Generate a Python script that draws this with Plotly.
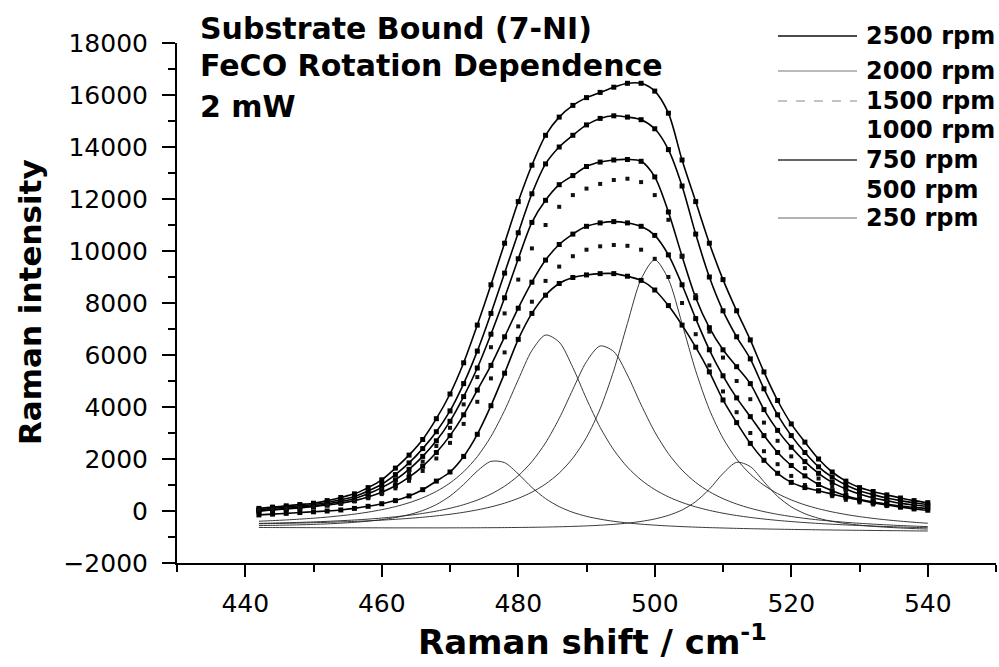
import plotly.graph_objects as go

shift = list(range(442, 541, 2))

# Fitted spectra for each rotation speed (Raman intensity)
rpm2500 = [100, 150, 200, 250, 300, 400, 520, 660, 900, 1200,
           1650, 2150, 2750, 3550, 4500, 5700, 7150, 8700, 10300, 11900,
           13300, 14450, 15150, 15600, 15900, 16100, 16300, 16450, 16450, 16150,
           15300, 13500, 11900, 10300, 8900, 7700, 6580, 5350, 4250, 3350,
           2650, 2000, 1500, 1150, 900, 750, 620, 500, 400, 320]
rpm2000 = [50, 100, 150, 200, 250, 330, 430, 560, 770, 1030,
           1400, 1850, 2400, 3050, 3850, 4900, 6150, 7600, 9150, 10700,
           12200, 13350, 14000, 14450, 14850, 15100, 15200, 15150, 15050, 14700,
           13900, 12500, 10650, 9000, 7700, 6700, 5850, 4700, 3700, 2900,
           2250, 1700, 1300, 1000, 780, 630, 500, 400, 320, 250]
rpm1500 = [0, 50, 100, 150, 200, 270, 360, 480, 660, 900,
           1200, 1600, 2100, 2700, 3450, 4400, 5500, 6800, 8200, 9700,
           11100, 11950, 12550, 12900, 13250, 13420, 13500, 13520, 13450, 12850,
           11500, 9800, 8200, 7050, 6200, 5550, 4900, 3900, 3100, 2450,
           1900, 1450, 1100, 850, 650, 500, 400, 300, 230, 180]
rpm1000 = [50, 80, 120, 160, 200, 260, 340, 450, 600, 800,
           1080, 1450, 1900, 2500, 3200, 4100, 5150, 6300, 7600, 8900,
           10100, 11000, 11700, 12150, 12400, 12580, 12730, 12780, 12650, 12150,
           11200, 9800, 8300, 6900, 5900, 5000, 4300, 3400, 2700, 2100,
           1650, 1250, 950, 730, 560, 430, 340, 260, 200, 150]
rpm750 = [0, 40, 80, 120, 170, 230, 300, 400, 540, 720,
          970, 1300, 1720, 2250, 2900, 3700, 4650, 5600, 6700, 7800,
          8800, 9650, 10250, 10650, 10950, 11080, 11130, 11080, 10950, 10600,
          9850, 8700, 7400, 6200, 5200, 4350, 3630, 2900, 2250, 1750,
          1350, 1020, 780, 590, 450, 340, 260, 190, 140, 100]
rpm500 = [50, 60, 90, 120, 160, 210, 280, 370, 490, 650,
          870, 1160, 1540, 2020, 2620, 3350, 4200, 5100, 6100, 7100,
          8050, 8850, 9400, 9800, 10050, 10180, 10230, 10200, 10050, 9700,
          9000, 8000, 6800, 5600, 4600, 3800, 3000, 2300, 1800, 1350,
          1000, 760, 570, 430, 330, 250, 190, 140, 100, 80]
rpm250 = [-150, -120, -90, -60, -30, 0, 40, 100, 180, 280,
          400, 580, 820, 1150, 1500, 2100, 2950, 4050, 5300, 6600,
          7600, 8300, 8750, 8980, 9080, 9130, 9130, 9030, 8870, 8500,
          7900, 7150, 6300, 5350, 4270, 3400, 2600, 1950, 1450, 1100,
          900, 780, 650, 530, 420, 320, 230, 150, 80, 30]

# Fitted component bands (~477, ~484, ~492, ~500, ~512 cm^-1)
band477 = [-561, -553, -543, -531, -515, -495, -469, -435, -391, -332,
           -251, -140, 19, 246, 573, 1020, 1537, 1909, 1859, 1426,
           906, 477, 167, -52, -205, -315, -397, -458, -506, -544,
           -575, -600, -621, -639, -654, -668, -680, -690, -700, -708,
           -716, -724, -731, -737, -743, -749, -754, -759, -765, -769]
band484 = [-392, -370, -344, -313, -277, -234, -182, -120, -43, 51,
           168, 317, 506, 753, 1077, 1510, 2090, 2866, 3869, 5051,
           6171, 6768, 6495, 5518, 4312, 3217, 2346, 1686, 1194, 825,
           544, 328, 159, 24, -85, -174, -247, -309, -362, -406,
           -445, -479, -509, -535, -558, -579, -598, -615, -631, -645]
band492 = [-476, -465, -452, -437, -419, -398, -374, -346, -312, -271,
           -223, -164, -93, -5, 105, 243, 420, 651, 953, 1356,
           1898, 2622, 3560, 4675, 5746, 6347, 6131, 5228, 4087, 3042,
           2206, 1573, 1098, 744, 475, 268, 106, -24, -128, -213,
           -284, -343, -392, -436, -473, -505, -534, -559, -581, -601]
band500 = [-492, -484, -474, -463, -451, -436, -419, -400, -377, -351,
           -320, -283, -240, -188, -126, -50, 43, 158, 302, 486,
           724, 1038, 1459, 2034, 2829, 3929, 5410, 7217, 8920, 9663,
           8914, 7205, 5392, 3905, 2799, 1998, 1417, 990, 670, 426,
           236, 86, -35, -134, -216, -284, -342, -391, -434, -471]
band512 = [-634, -636, -638, -640, -642, -643, -645, -646, -647, -648,
           -649, -649, -649, -649, -648, -647, -645, -642, -638, -633,
           -627, -618, -607, -592, -573, -547, -513, -466, -401, -307,
           -169, 39, 360, 839, 1444, 1873, 1709, 1125, 561, 160,
           -104, -280, -399, -483, -544, -590, -625, -653, -676, -695]

series_names = ["2500 rpm", "2000 rpm", "1500 rpm", "1000 rpm", "750 rpm", "500 rpm", "250 rpm"]
series_values = [rpm2500, rpm2000, rpm1500, rpm1000, rpm750, rpm500, rpm250]
series_has_line = [True, True, True, False, True, False, True]
bands = [band477, band484, band492, band500, band512]

FONT = "DejaVu Sans"

fig = go.Figure()

for b in bands:
    fig.add_trace(go.Scatter(x=shift, y=b, mode="lines",
                             line=dict(color="#222222", width=0.9, shape="spline", smoothing=0.8),
                             showlegend=False, hoverinfo="skip"))

for name, vals, has_line in zip(series_names, series_values, series_has_line):
    if has_line:
        fig.add_trace(go.Scatter(x=shift, y=vals, mode="lines+markers", name=name,
                                 line=dict(color="black", width=1.6, shape="spline", smoothing=0.8),
                                 marker=dict(symbol="square", size=5, color="black"),
                                 showlegend=False))
    else:
        fig.add_trace(go.Scatter(x=shift, y=vals, mode="markers", name=name,
                                 marker=dict(symbol="square", size=4, color="#111111"),
                                 showlegend=False))

# Manual legend (line samples + bold labels) to match the reference layout
legend_styles = [
    dict(color="#111111", width=1.6, dash="solid"),
    dict(color="#777777", width=1.2, dash="solid"),
    dict(color="#888888", width=1.2, dash="dash"),
    None,
    dict(color="#333333", width=1.6, dash="solid"),
    None,
    dict(color="#666666", width=1.2, dash="solid"),
]
legend_py = [36, 71, 101, 130, 160, 190, 218]
shapes = []
annotations = []
for name, style, py in zip(series_names, legend_styles, legend_py):
    yp = (563 - py) / 520.0
    if style is not None:
        shapes.append(dict(type="line", xref="paper", yref="paper",
                           x0=(778 - 177) / 819.0, x1=(857 - 177) / 819.0, y0=yp, y1=yp,
                           line=style))
    annotations.append(dict(text="<b>%s</b>" % name, xref="paper", yref="paper",
                            x=(864 - 177) / 819.0, y=yp, xanchor="left", yanchor="middle",
                            showarrow=False, font=dict(family=FONT, size=24, color="black")))

for txt, py in [("Substrate Bound (7-NI)", 28), ("FeCO Rotation Dependence", 66), ("2 mW", 106)]:
    annotations.append(dict(text="<b>%s</b>" % txt, xref="paper", yref="paper",
                            x=(198 - 177) / 819.0, y=(563 - py) / 520.0,
                            xanchor="left", yanchor="middle", showarrow=False,
                            font=dict(family=FONT, size=30, color="black")))

annotations.append(dict(text="<b>Raman shift / cm<sup>-1</sup></b>", xref="paper", yref="paper",
                        x=(592 - 177) / 819.0, y=(563 - 640) / 520.0,
                        xanchor="center", yanchor="middle", showarrow=False,
                        font=dict(family=FONT, size=34, color="black")))
annotations.append(dict(text="<b>Raman intensity</b>", xref="paper", yref="paper",
                        x=(30 - 177) / 819.0, y=(563 - 302) / 520.0, textangle=-90,
                        xanchor="center", yanchor="middle", showarrow=False,
                        font=dict(family=FONT, size=31, color="black")))

axis_common = dict(showline=True, linewidth=2, linecolor="black", ticks="outside",
                   tickwidth=2, tickcolor="black", showgrid=False, zeroline=False,
                   tickformat="d",
                   tickfont=dict(family=FONT, size=25, color="black"))

fig.update_layout(
    width=999, height=667,
    margin=dict(l=177, r=3, t=43, b=104),
    paper_bgcolor="white", plot_bgcolor="white",
    shapes=shapes, annotations=annotations, showlegend=False,
    xaxis=dict(range=[430, 550], tick0=440, dtick=20, ticklen=12,
               minor=dict(dtick=10, tick0=430, ticklen=7, tickwidth=2, ticks="outside", tickcolor="black"),
               ticklabelstandoff=5, **axis_common),
    yaxis=dict(range=[-2000, 18000], tick0=0, dtick=2000, ticklen=13,
               minor=dict(dtick=1000, tick0=0, ticklen=7, tickwidth=2, ticks="outside", tickcolor="black"),
               ticklabelstandoff=9, **axis_common),
)

fig.write_html("out.html")
